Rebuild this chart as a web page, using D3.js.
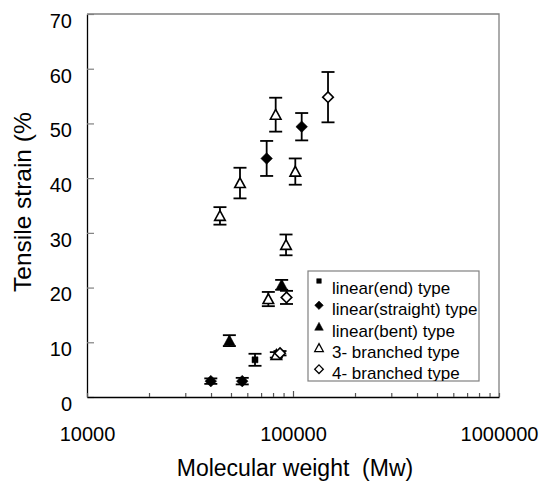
<!DOCTYPE html>
<html>
<head>
<meta charset="utf-8">
<script src="https://cdn.jsdelivr.net/npm/d3@7"></script>
<style>
  body { margin: 0; background: #fff; }
  text { font-family: Arial, "Liberation Sans", sans-serif; fill: #000; }
</style>
</head>
<body>
<div id="chart"></div>
<script>
// data: Mw, tensile strain (%), error (+/-)
var endMw = [65400],
    endStrain = [6.8],
    endErr = [1.1];

var straightMw = [39900, 56700, 74500, 110200],
    straightStrain = [2.9, 2.9, 43.6, 49.4],
    straightErr = [0.5, 0.6, 3.2, 2.5];

var bentMw = [49100, 88100],
    bentStrain = [10.3, 20.5],
    bentErr = [1.0, 0.9];

var branch3Mw = [44200, 55300, 82400, 102600, 92500, 75900, 83000],
    branch3Strain = [33.1, 39.1, 51.6, 41.2, 27.8, 17.9, 7.7],
    branch3Err = [1.6, 2.8, 3.1, 2.4, 1.9, 1.3, 0.5];

var branch4Mw = [147900, 93000, 86500],
    branch4Strain = [54.8, 18.2, 8.0],
    branch4Err = [4.6, 1.2, 0.4];

var yTicks = [0, 10, 20, 30, 40, 50, 60, 70];
var xLabels = [10000, 100000, 1000000];
var legendLabels = ["linear(end) type", "linear(straight) type", "linear(bent) type",
                    "3- branched type", "4- branched type"];

// set the dimensions and margins of the graph
var margin = {top: 14, right: 43, bottom: 84, left: 87},
    width = 542 - margin.left - margin.right,
    height = 481 - margin.top - margin.bottom;

var root = d3.select("#chart")
  .append("svg")
    .attr("width", 542)
    .attr("height", 481);

var svg = root.append("g")
    .attr("transform", "translate(" + margin.left + "," + margin.top + ")");

// scales
var x = d3.scaleLog()
  .domain([10000, 1000000])
  .range([0, width]);
var y = d3.scaleLinear()
  .domain([0, 70])
  .range([height, 0]);

// marker shapes
function markerPath(shape, s) {
  if (shape == "square") return "M" + (-s) + "," + (-s) + "h" + 2 * s + "v" + 2 * s + "h" + (-2 * s) + "Z";
  if (shape == "diamond") return "M0," + (-s) + "L" + s + ",0L0," + s + "L" + (-s) + ",0Z";
  return "M0," + (-s) + "L" + s + "," + (s * 0.85) + "L" + (-s) + "," + (s * 0.85) + "Z";
}

var series = [
  {name: legendLabels[0], mw: endMw, v: endStrain, e: endErr, shape: "square", filled: true, size: 3},
  {name: legendLabels[1], mw: straightMw, v: straightStrain, e: straightErr, shape: "diamond", filled: true, size: 5.8},
  {name: legendLabels[2], mw: bentMw, v: bentStrain, e: bentErr, shape: "triangle", filled: true, size: 5.8},
  {name: legendLabels[3], mw: branch3Mw, v: branch3Strain, e: branch3Err, shape: "triangle", filled: false, size: 5.3},
  {name: legendLabels[4], mw: branch4Mw, v: branch4Strain, e: branch4Err, shape: "diamond", filled: false, size: 5.3}
];

// frame (top and right in grey)
svg.append("path")
  .attr("d", "M0,0H" + width + "V" + height)
  .attr("fill", "none")
  .attr("stroke", "#808080")
  .attr("stroke-width", 1.3);

// Y axis with inside ticks
var yAxis = svg.append("g")
  .call(d3.axisLeft(y).tickValues(yTicks).tickSizeInner(-7).tickSizeOuter(0).tickPadding(15));
yAxis.select(".domain").attr("stroke", "#000").attr("stroke-width", 1.3);
yAxis.selectAll(".tick line").attr("stroke", "#808080").attr("stroke-width", 1.2);
yAxis.selectAll("text")
  .attr("transform", "translate(0,7)")
  .style("font-size", "20px");

// X axis (log) with minor ticks inside
var xTicks = [];
[10000, 100000].forEach(function(d) {
  for (var k = 1; k < 10; k++) xTicks.push(d * k);
});
xTicks.push(1000000);
var xAxis = svg.append("g")
  .attr("transform", "translate(0," + height + ")")
  .call(d3.axisBottom(x).tickValues(xTicks).tickSizeInner(-4).tickSizeOuter(0).tickPadding(30)
    .tickFormat(function(d) { return xLabels.indexOf(d) >= 0 ? d : ""; }));
xAxis.select(".domain").attr("stroke", "#000").attr("stroke-width", 1.3);
xAxis.selectAll(".tick line")
  .attr("stroke", "#555")
  .attr("stroke-width", 1.2)
  .attr("y2", function(d) { return d == 100000 ? -6 : -4; });
xAxis.selectAll("text").style("font-size", "20px");

// error bars
var pts = [];
series.forEach(function(s) {
  s.mw.forEach(function(m, i) {
    pts.push({s: s, mw: m, v: s.v[i], e: s.e[i]});
  });
});

var bars = svg.append("g").selectAll("g")
  .data(pts)
  .enter().append("g")
  .attr("stroke", "#000")
  .attr("stroke-width", 1.8);
bars.append("line")
  .attr("x1", function(d) { return x(d.mw); })
  .attr("x2", function(d) { return x(d.mw); })
  .attr("y1", function(d) { return y(d.v - d.e); })
  .attr("y2", function(d) { return y(d.v + d.e); });
bars.append("line")
  .attr("x1", function(d) { return x(d.mw) - 6.5; })
  .attr("x2", function(d) { return x(d.mw) + 6.5; })
  .attr("y1", function(d) { return y(d.v + d.e); })
  .attr("y2", function(d) { return y(d.v + d.e); });
bars.append("line")
  .attr("x1", function(d) { return x(d.mw) - 6.5; })
  .attr("x2", function(d) { return x(d.mw) + 6.5; })
  .attr("y1", function(d) { return y(d.v - d.e); })
  .attr("y2", function(d) { return y(d.v - d.e); });

// markers
svg.append("g").selectAll("path")
  .data(pts)
  .enter().append("path")
  .attr("d", function(d) { return markerPath(d.s.shape, d.s.size); })
  .attr("transform", function(d) { return "translate(" + x(d.mw) + "," + y(d.v) + ")"; })
  .attr("fill", function(d) { return d.s.filled ? "#000" : "#fff"; })
  .attr("stroke", "#000")
  .attr("stroke-width", function(d) { return d.s.filled ? 0.5 : 1.6; });

// legend
var lx = 221, ly = 257, lw = 171, lh = 110, rowH = 21.3;
var legend = svg.append("g").attr("transform", "translate(" + lx + "," + ly + ")");
root.append("clipPath").attr("id", "legclip")
  .append("rect").attr("x", 0).attr("y", 0).attr("width", lw + 10).attr("height", lh);
legend.append("rect")
  .attr("width", lw).attr("height", lh)
  .attr("fill", "#fff")
  .attr("stroke", "#808080")
  .attr("stroke-width", 1.2);
var rows = legend.append("g").attr("clip-path", "url(#legclip)")
  .selectAll("g")
  .data(series)
  .enter().append("g")
  .attr("transform", function(d, i) { return "translate(0," + (17 + i * rowH) + ")"; });
rows.append("path")
  .attr("d", function(d) { return markerPath(d.shape, d.shape == "square" ? 2.3 : 4.3); })
  .attr("transform", function(d) { return "translate(11," + (d.shape == "square" ? -7 : -4) + ")"; })
  .attr("fill", function(d) { return d.filled ? "#000" : "#fff"; })
  .attr("stroke", "#000")
  .attr("stroke-width", function(d) { return d.filled ? 0.5 : 1.3; });
rows.append("text")
  .attr("x", 24)
  .attr("y", 6)
  .style("font-size", "17px")
  .text(function(d) { return d.name; });

// axis titles
root.append("text")
  .attr("x", 295)
  .attr("y", 476)
  .attr("text-anchor", "middle")
  .style("font-size", "23px")
  .style("white-space", "pre")
  .text("Molecular weight  (Mw)");

root.append("clipPath").attr("id", "ytclip")
  .append("rect").attr("x", 0).attr("y", 112).attr("width", 60).attr("height", 300);
root.append("g").attr("clip-path", "url(#ytclip)")
  .append("text")
  .attr("transform", "translate(31,292) rotate(-90)")
  .style("font-size", "24.5px")
  .text("Tensile strain (%)");
</script>
</body>
</html>
